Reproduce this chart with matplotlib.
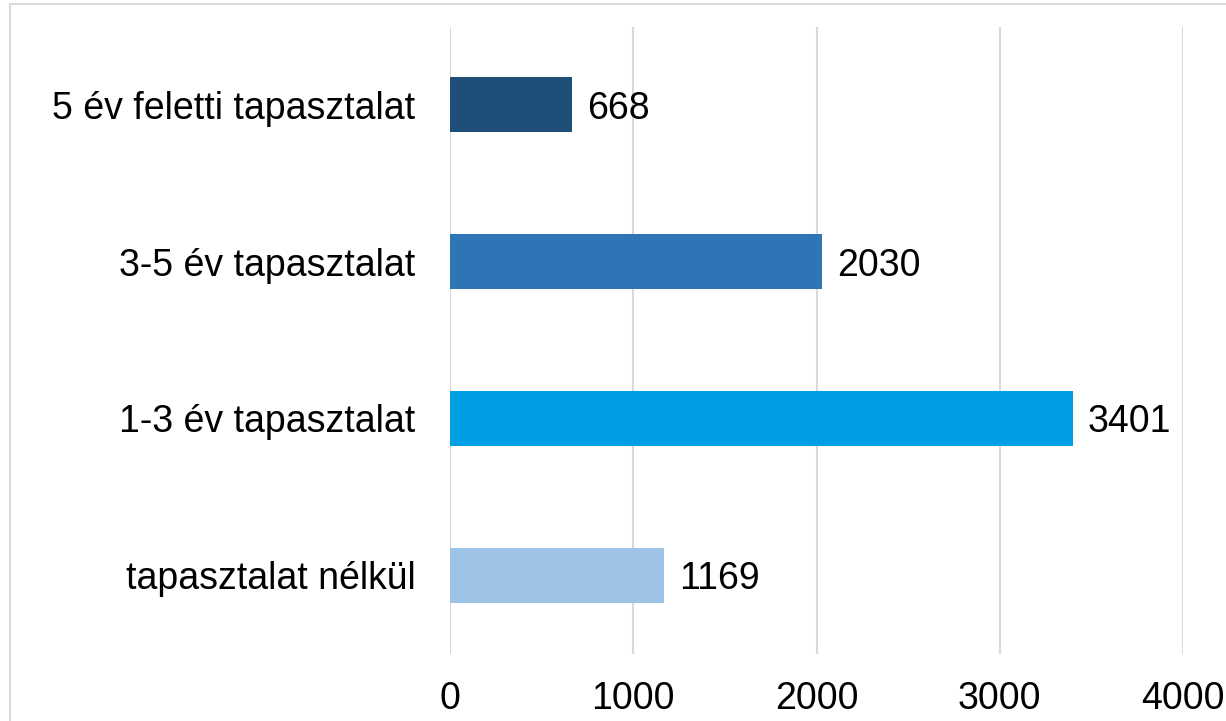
import matplotlib.pyplot as plt
from matplotlib.patches import Rectangle

plt.rcParams['font.family'] = ['Liberation Sans', 'DejaVu Sans']

# data (bottom to top)
categories = ['tapasztalat nélkül', '1-3 év tapasztalat', '3-5 év tapasztalat', '5 év feletti tapasztalat']
values = [1169, 3401, 2030, 668]
colors = ['#9DC3E6', '#009FE3', '#2E75B6', '#1F4E79']
x_ticks = [0, 1000, 2000, 3000, 4000]

fig = plt.figure(figsize=(12.26, 7.21), dpi=100)
ax = fig.add_axes([450 / 1226, 1 - 653.5 / 721, (1183 - 450) / 1226, (653.5 - 26.5) / 721])

# outer chart frame (cut off at right and bottom like the reference)
fig.patches.append(Rectangle((9.5 / 1226, -0.1), 1.2, 1 - 4 / 721 + 0.1,
                             transform=fig.transFigure, fill=False,
                             edgecolor='#D9D9D9', linewidth=1.5))

ypos = range(len(categories))
bars = ax.barh(ypos, values, height=0.35, color=colors, zorder=3)

for y, v in zip(ypos, values):
    ax.text(v + 80, y, str(v), va='center_baseline', ha='left', fontsize=27)

ax.set_xlim(0, 4000)
ax.set_ylim(-0.5, len(categories) - 0.5)
ax.set_xticks(x_ticks)
ax.set_xticklabels([str(t) for t in x_ticks], fontsize=27)
ax.set_yticks(list(ypos))
ax.set_yticklabels(categories, fontsize=27)
for lbl in ax.get_yticklabels():
    lbl.set_verticalalignment('center_baseline')
ax.tick_params(axis='both', length=0)
ax.tick_params(axis='x', pad=20)
ax.tick_params(axis='y', pad=25)
ax.xaxis.grid(True, color='#D9D9D9', linewidth=1.5, zorder=0)
ax.set_axisbelow(True)
for s in ax.spines.values():
    s.set_visible(False)

fig.savefig('out.png', dpi=100)
